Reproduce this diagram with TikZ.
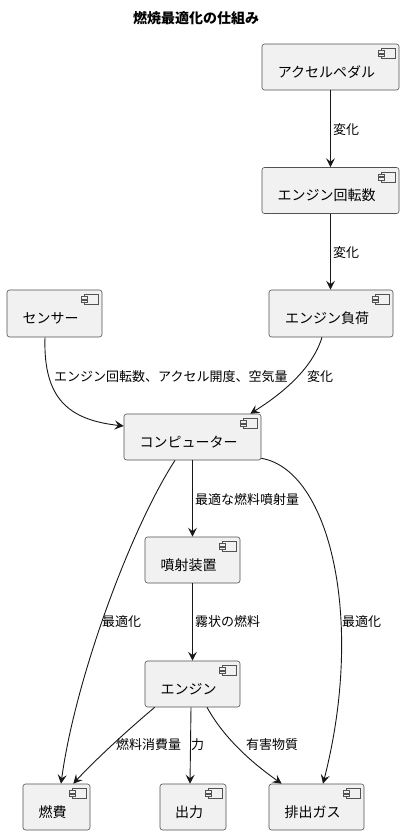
\documentclass[tikz,border=0pt]{standalone}
\usepackage{fontspec}
\setmainfont{Noto Sans CJK JP}
\usetikzlibrary{arrows.meta,calc}
\definecolor{boxfill}{HTML}{F1F1F1}
\definecolor{ink}{HTML}{181818}
\tikzset{
  cbox/.style={draw=ink!75, line width=0.6pt, fill=boxfill, rounded corners=2.5pt, inner sep=0pt},
  ctext/.style={inner sep=0pt, font=\fontsize{14}{16}\selectfont, text=black},
  lbl/.style={inner sep=0pt, anchor=west, font=\fontsize{13}{15}\selectfont, text=black},
  iconline/.style={draw=ink!75, line width=0.5pt, fill=boxfill},
  conn/.style={draw=ink, line width=0.9pt, -{Stealth[length=9pt,width=9pt,inset=3.5pt]}},
}
\newcommand\compbox[6]{%
  \node[cbox, minimum width=#4pt, minimum height=#5pt] (#1) at (#2,#3) {};
  \node[ctext] (#1-t) at ([xshift=-4pt,yshift=-5pt]#1.center) {#6};
  \path[iconline] ([xshift=-18pt,yshift=-5pt]#1.north east) rectangle ([xshift=-4pt,yshift=-15pt]#1.north east);
  \path[iconline] ([xshift=-21pt,yshift=-7pt]#1.north east) rectangle ([xshift=-15pt,yshift=-9.5pt]#1.north east);
  \path[iconline] ([xshift=-21pt,yshift=-10.5pt]#1.north east) rectangle ([xshift=-15pt,yshift=-13pt]#1.north east);
}
\begin{document}
\begin{tikzpicture}[x=1pt,y=-1pt]
\useasboundingbox[fill=white] (0,0) rectangle (404,835);
\node[font=\fontsize{14}{16}\selectfont\bfseries, inner sep=0pt] (title) at (196,18) {燃焼最適化の仕組み};

\compbox{acc}{330.5}{67}{137}{46}{アクセルペダル}
\compbox{rev}{330.5}{190.5}{137}{46}{エンジン回転数}
\compbox{load}{331}{313.5}{124}{47}{エンジン負荷}
\compbox{sen}{54.5}{313.5}{95}{47}{センサー}
\compbox{comp}{192.5}{437}{137}{46}{コンピューター}
\compbox{inj}{192.5}{560}{95}{46}{噴射装置}
\compbox{eng}{192.5}{684}{95}{46}{エンジン}
\compbox{fuel}{56.5}{807}{67}{46}{燃費}
\compbox{out}{193}{807}{66}{46}{出力}
\compbox{exh}{316.5}{807}{95}{46}{排出ガス}

\draw[conn] (acc.south) -- (rev.north);
\draw[conn] (rev.south) -- (rev.south |- load.north);
\draw[conn] ([xshift=-9.5pt]sen.south) .. controls (43,400) and (70,420) .. ([yshift=11pt]comp.west);
\draw[conn] ([xshift=-9pt]load.south) .. controls (312,370) and (280,395) .. ([xshift=-11pt]comp.north east);
\draw[conn] (comp.south) -- (inj.north);
\draw[conn] ([xshift=-17.5pt]comp.south) .. controls (130,530) and (75,680) .. ([xshift=4.5pt]fuel.north);
\draw[conn] ([yshift=2pt]comp.south east) .. controls (330,470) and (365,620) .. ([xshift=6.5pt]exh.north);
\draw[conn] (inj.south) -- (eng.north);
\draw[conn] ([xshift=10pt]eng.south west) .. controls (130,728) and (95,760) .. ([xshift=-17pt]fuel.north east);
\draw[conn] ([xshift=-1.5pt]eng.south) -- ([xshift=-3pt]out.north);
\draw[conn] ([xshift=14.5pt]eng.south) .. controls (225,740) and (255,765) .. ([xshift=13pt]exh.north west);

\node[lbl] (l1) at (333,130) {変化};
\node[lbl] (l2) at (333,253) {変化};
\node[lbl] (l3) at (54,377) {エンジン回転数、アクセル開度、空気量};
\node[lbl] (l4) at (307,377) {変化};
\node[lbl] (l5) at (195,500) {最適な燃料噴射量};
\node[lbl] (l6) at (102,622) {最適化};
\node[lbl] (l7) at (195,622) {霧状の燃料};
\node[lbl] (l8) at (342,622) {最適化};
\node[lbl] (l9) at (116,745) {燃料消費量};
\node[lbl] (l10) at (191,745) {力};
\node[lbl] (l11) at (246,745) {有害物質};
\end{tikzpicture}
\end{document}
